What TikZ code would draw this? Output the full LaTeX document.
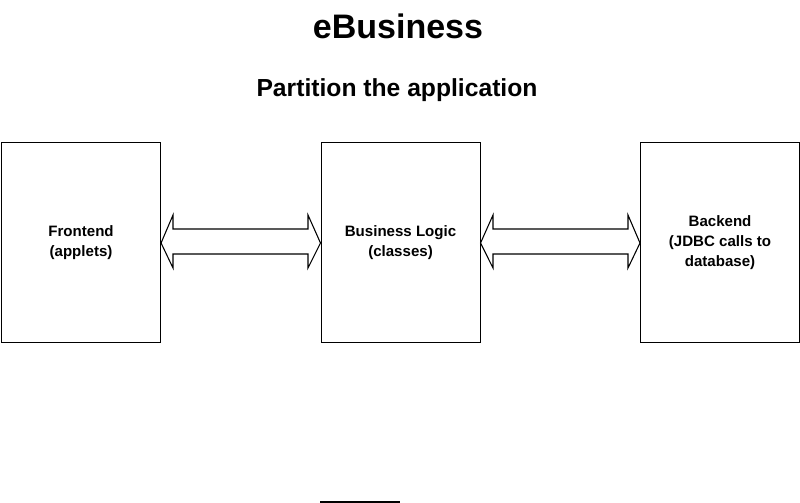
\documentclass[tikz,border=0pt]{standalone}
\usepackage{fontspec}
\setmainfont{Liberation Sans}
\begin{document}
\begin{tikzpicture}[x=0.75pt,y=-0.75pt,
  box/.style={draw,line width=0.8pt,minimum width=119.25pt,minimum height=150pt,anchor=north west,inner sep=0pt,align=center,font=\bfseries\fontsize{11.3}{15}\selectfont},
  dblarrow/.style={draw,line width=0.8pt,fill=white}]
\useasboundingbox (0,0) rectangle (800,503);
\node[font=\bfseries\fontsize{25.5}{30}\selectfont] (t) at (398,26) {eBusiness};
\node[font=\bfseries\fontsize{18.5}{22}\selectfont] (s) at (397,90) {Partition the application};
\node[box] (f) at (1,142) {Frontend\\(applets)};
\node[box] (m) at (320.5,142) {Business Logic\\(classes)};
\node[box] (b) at (640,142) {Backend\\(JDBC calls to\\database)};
\draw[dblarrow] (f.east |- 0,243) -- (173,215) -- (173,229) -- (308,229) -- (308,215) -- (m.west |- 0,243) -- (308,268) -- (308,254) -- (173,254) -- (173,268) -- cycle;
\draw[dblarrow] (m.east |- 0,243) -- (493,215) -- (493,229) -- (628,229) -- (628,215) -- (b.west |- 0,243) -- (628,268) -- (628,254) -- (493,254) -- (493,268) -- cycle;
\coordinate (l1) at (320,502);
\coordinate (l2) at (400,502);
\draw[line width=0.8pt] (l1) -- (l2);
\end{tikzpicture}
\end{document}
